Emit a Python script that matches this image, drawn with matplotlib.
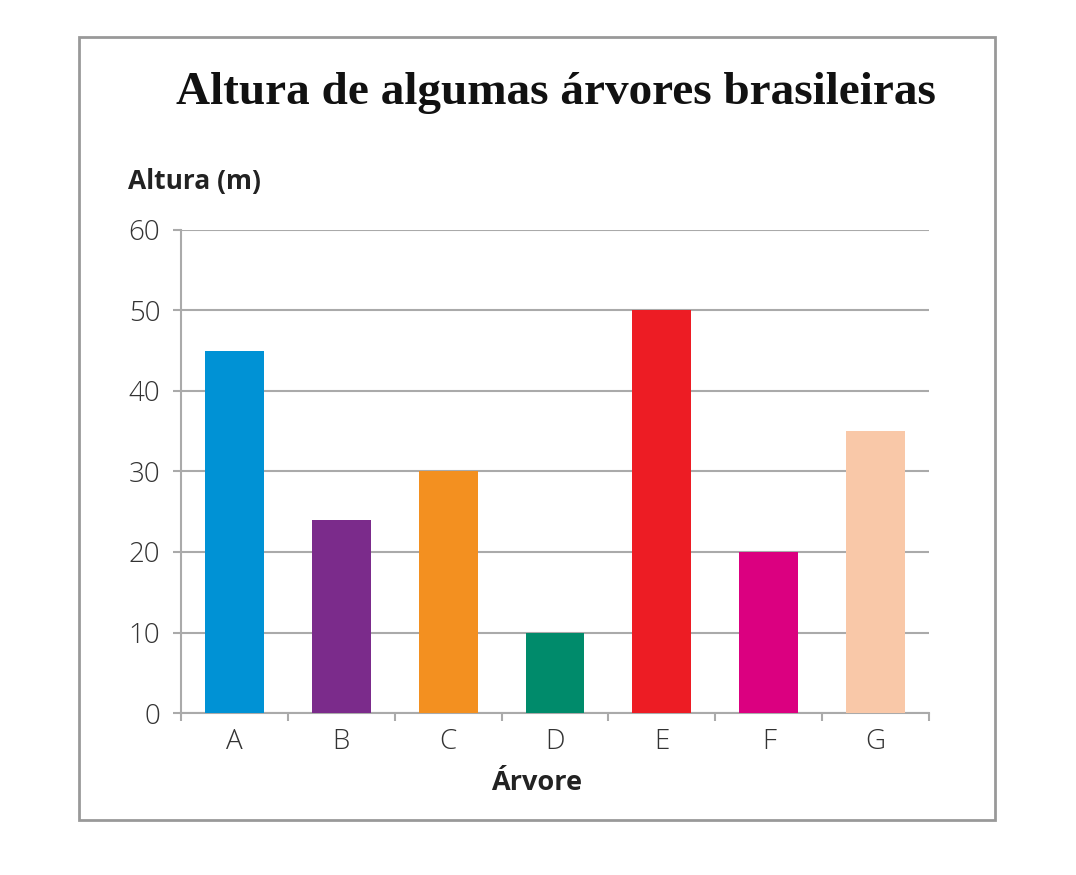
import matplotlib.pyplot as plt
from matplotlib.patches import Rectangle

# dados
arvores = ["A", "B", "C", "D", "E", "F", "G"]
alturas = [45, 24, 30, 10, 50, 20, 35]
cores = ["#0092D5", "#7B2B8B", "#F39020", "#008B6B", "#ED1C24", "#DB0080", "#F9C8A8"]
yticks = [0, 10, 20, 30, 40, 50, 60]

fig = plt.figure(figsize=(10.76, 8.75), dpi=100)
ax = fig.add_axes([181 / 1076, 1 - 713 / 875, 748 / 1076, 483 / 875])

x = list(range(len(arvores)))
ax.bar(x, alturas, width=0.55, color=cores, zorder=3)

ax.set_xlim(-0.5, len(arvores) - 0.5)
ax.set_ylim(0, 60)
ax.set_yticks(yticks)
ax.set_xticks(x)
ax.set_xticklabels(arvores)
ax.set_xticks([i - 0.5 for i in range(len(arvores) + 1)], minor=True)
ax.tick_params(axis="x", which="major", length=0, pad=11, labelsize=20, labelcolor="#333333")
ax.tick_params(axis="x", which="minor", length=6, color="#aaaaaa", width=1.5, direction="out")
ax.tick_params(axis="y", length=6, color="#aaaaaa", width=1.5, pad=9, labelsize=20, labelcolor="#333333")
for lbl in ax.get_xticklabels() + ax.get_yticklabels():
    lbl.set_family("Open Sans")
    lbl.set_fontweight("light")

ax.grid(axis="y", color="#aaaaaa", linewidth=1.5, zorder=0)
for s in ["top", "right"]:
    ax.spines[s].set_visible(False)
for s in ["left", "bottom"]:
    ax.spines[s].set_color("#aaaaaa")
    ax.spines[s].set_linewidth(1.5)

ax.set_xlabel("Árvore", fontsize=19.5, fontweight="bold", family="Open Sans", color="#222222")
ax.xaxis.set_label_coords((537 - 181) / 748, -(783 - 713) / 483)
ax.xaxis.label.set_va("center")

fig.text(128 / 1076, 1 - 181 / 875, "Altura (m)", fontsize=19, fontweight="bold",
         family="Open Sans", color="#222222", va="center", ha="left")
fig.text(556 / 1076, 1 - 93 / 875, "Altura de algumas árvores brasileiras", fontsize=34,
         fontweight="bold", family="Liberation Serif", color="#111111", va="center", ha="center")

# moldura
fig.patches.append(Rectangle((79 / 1076, 1 - 820 / 875), 916 / 1076, 783 / 875,
                             transform=fig.transFigure, fill=False,
                             edgecolor="#999999", linewidth=2))

fig.savefig("out.png", dpi=100, facecolor="white")
